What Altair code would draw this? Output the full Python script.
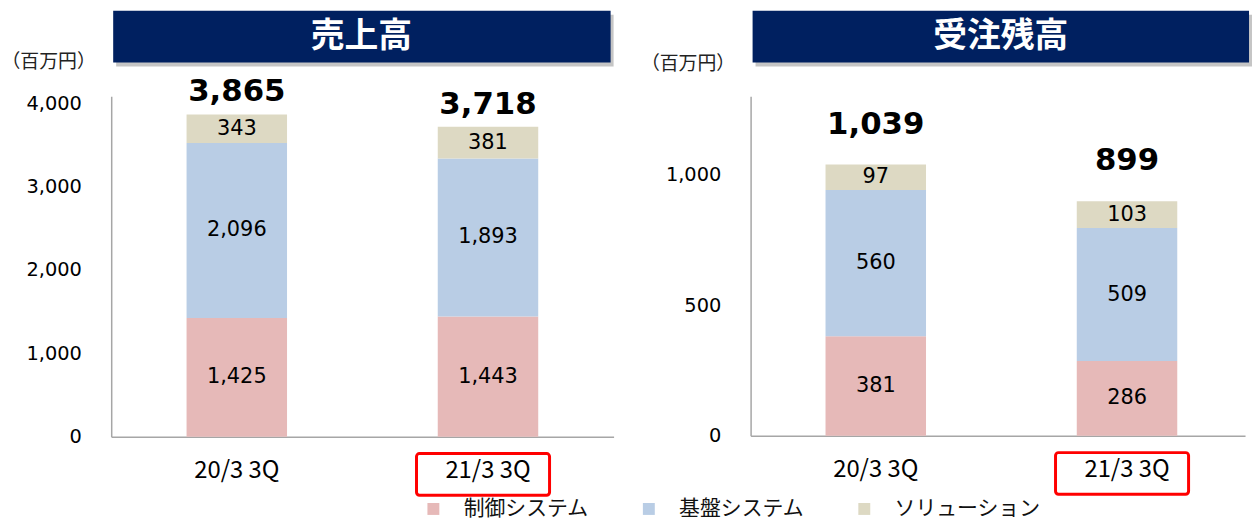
import altair as alt
import pandas as pd

# ---- data ----
periods = ["20/3 3Q", "21/3 3Q"]
segments = ["制御システム", "基盤システム", "ソリューション"]

sales_control = [1425, 1443]
sales_base = [2096, 1893]
sales_solution = [343, 381]
sales_total = [3865, 3718]

backlog_control = [381, 286]
backlog_base = [560, 509]
backlog_solution = [97, 103]
backlog_total = [1039, 899]

highlight_period = "21/3 3Q"
unit_label = "（百万円）"
panel_titles = ["売上高", "受注残高"]
sales_ticks = [0, 1000, 2000, 3000, 4000]
backlog_ticks = [0, 500, 1000]

seg_colors = ["#E6B9B8", "#B9CDE5", "#DDD9C3"]
navy = "#002060"


def seg_frame(ctrl, base, sol):
    rows = []
    for i, p in enumerate(periods):
        for k, (s, v) in enumerate(zip(segments, [ctrl[i], base[i], sol[i]])):
            rows.append({"period": p, "segment": s, "value": v, "order": k})
    return pd.DataFrame(rows)


def panel(title, seg, totals, ymax, yticks, width, height, banner_top,
          banner_x2, total_dy, title_y, xpad_outer, xalign):
    xscale = alt.Scale(domain=periods, paddingInner=0.6,
                       paddingOuter=xpad_outer, align=xalign)
    xaxis = alt.Axis(title=None, ticks=False, labelAngle=0,
                     labelFont="Noto Sans CJK JP", labelFontSize=24,
                     labelColor="#000", labelPadding=22,
                     domainColor="#A6A6A6", domainWidth=1.5)
    xenc = alt.X("period:N", sort=periods, scale=xscale, axis=xaxis)
    yscale = alt.Scale(domain=[0, ymax], nice=False, zero=True)
    yaxis = alt.Axis(values=yticks, format=",.0f", grid=False, ticks=False,
                     domainColor="#A6A6A6", domainWidth=1.5,
                     labelFont="DejaVu Sans", labelFontSize=19.5,
                     labelColor="#000", labelPadding=30,
                     title=unit_label, titleAngle=0,
                     titleX=-63.5, titleY=title_y,
                     titleAlign="center", titleBaseline="middle",
                     titleFont="Noto Sans CJK JP", titleFontSize=19,
                     titleFontWeight="normal", titleColor="#222")

    bars = alt.Chart(seg).mark_bar().encode(
        x=xenc,
        y=alt.Y("value:Q", stack="zero", scale=yscale, axis=yaxis),
        color=alt.Color("segment:N",
                        scale=alt.Scale(domain=segments, range=seg_colors),
                        legend=alt.Legend(title=None)),
        order=alt.Order("order:Q"),
    )

    seg_text = alt.Chart(seg).transform_stack(
        stack="value", groupby=["period"],
        sort=[alt.SortField("order", order="ascending")], as_=["y0", "y1"]
    ).transform_calculate(mid="(datum.y0 + datum.y1) / 2").mark_text(
        font="DejaVu Sans", fontSize=21, color="#000", baseline="middle"
    ).encode(
        x=xenc,
        y=alt.Y("mid:Q", scale=yscale, axis=yaxis),
        text=alt.Text("value:Q", format=","),
    )

    tot_df = pd.DataFrame({"period": periods, "total": totals})
    tot_text = alt.Chart(tot_df).mark_text(
        font="DejaVu Sans", fontSize=31, fontWeight="bold", color="#000",
        baseline="middle", dy=total_dy
    ).encode(
        x=xenc,
        y=alt.Y("total:Q", scale=yscale, axis=yaxis),
        text=alt.Text("total:Q", format=","),
    )

    hl = alt.Chart(pd.DataFrame({"period": [highlight_period]})).mark_bar(
        width=134, fillOpacity=0, stroke="#FF0000", strokeWidth=3,
        cornerRadius=3, xOffset=-5
    ).encode(
        x=xenc,
        y=alt.value(height + 17), y2=alt.value(height + 59),
    )

    tdf = pd.DataFrame({"t": [title]})
    shadow = alt.Chart(tdf).mark_rect(color="#7F7F7F", opacity=0.45).encode(
        x=alt.value(5), x2=alt.value(banner_x2 + 3),
        y=alt.value(banner_top + 4), y2=alt.value(banner_top + 56),
    )
    banner = alt.Chart(tdf).mark_rect(color=navy).encode(
        x=alt.value(2), x2=alt.value(banner_x2),
        y=alt.value(banner_top), y2=alt.value(banner_top + 52),
    )
    banner_text = alt.Chart(tdf).mark_text(
        color="white", font="Noto Sans CJK JP", fontWeight="bold",
        fontSize=34, baseline="middle", align="center"
    ).encode(
        x=alt.value(252), y=alt.value(banner_top + 26), text="t:N"
    )

    return alt.layer(bars, seg_text, tot_text, hl, shadow, banner,
                     banner_text).properties(width=width, height=height)


left = panel(panel_titles[0],
             seg_frame(sales_control, sales_base, sales_solution),
             sales_total, 4083, sales_ticks, 506, 343,
             banner_top=-86, banner_x2=503, total_dy=-22, title_y=-35,
             xpad_outer=0.3, xalign=0.5)
right = panel(panel_titles[1],
              seg_frame(backlog_control, backlog_base, backlog_solution),
              backlog_total, 1300, backlog_ticks, 498, 342,
              banner_top=-86, banner_x2=502, total_dy=-40, title_y=-33,
              xpad_outer=0.284, xalign=0.525)

chart = alt.hconcat(left, right, spacing=26).properties(
    padding={"left": 0, "top": 9, "right": 0, "bottom": 0}
).configure_view(stroke=None).configure_legend(
    orient="none", legendX=314, legendY=405, direction="horizontal",
    symbolType="square", symbolSize=144, symbolStrokeWidth=0,
    labelFont="Noto Sans CJK JP", labelFontSize=21, labelColor="#111",
    labelOffset=20, columnPadding=50, padding=0
)

chart.save("out.html", embed_options={"renderer": "svg", "actions": False})
